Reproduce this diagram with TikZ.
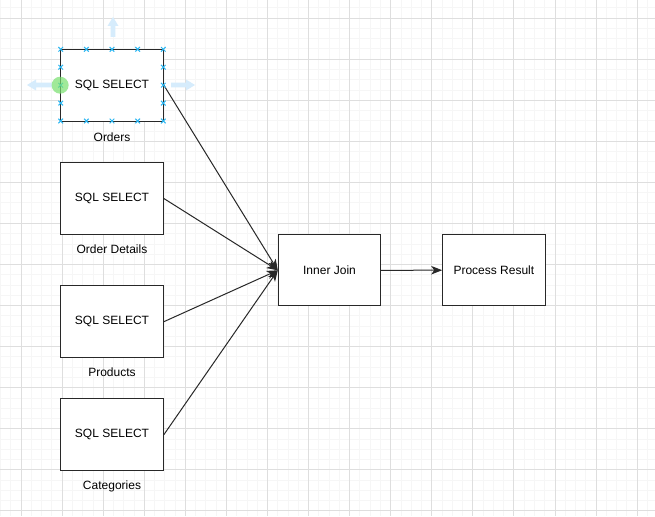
\documentclass[tikz,border=0pt]{standalone}
\usepackage{fontspec}
\setmainfont{Liberation Sans}
\usetikzlibrary{arrows.meta}

\definecolor{gridminor}{RGB}{246,246,246}
\definecolor{gridmajor}{RGB}{222,222,222}
\definecolor{edgegray}{RGB}{40,40,40}
\definecolor{handleblue}{RGB}{41,182,242}
\definecolor{hintblue}{RGB}{214,236,252}
\definecolor{pickgreen}{RGB}{120,225,110}

\begin{document}
\begin{tikzpicture}[x=1pt,y=1pt,yscale=-1,
  sqlbox/.style={draw=edgegray, line width=1pt, fill=white, minimum width=102.7pt,
    minimum height=71.8pt, inner sep=0pt, font=\fontsize{12}{14}\selectfont},
  caption/.style={inner sep=0pt, font=\fontsize{12}{14}\selectfont},
  flow/.style={draw=edgegray, line width=1pt, -{Stealth[length=11pt,width=8.5pt,inset=3pt]}},
  handle/.style={draw=handleblue, line width=1pt}]
\useasboundingbox (0,0) rectangle (655,516);
\fill[white] (0,0) rectangle (655,516);

% grid
\foreach \k in {-2,...,62} {
  \pgfmathsetmacro{\gx}{21+10.267*\k}
  \draw[gridminor, line width=0.7pt] (\gx,0) -- (\gx,516);
}
\foreach \k in {-1,...,49} {
  \pgfmathsetmacro{\gy}{18+10.267*\k}
  \draw[gridminor, line width=0.7pt] (0,\gy) -- (655,\gy);
}
\foreach \k in {0,...,15} {
  \pgfmathsetmacro{\gx}{21+41.07*\k}
  \draw[gridmajor, line width=0.8pt] (\gx,0) -- (\gx,516);
}
\foreach \k in {0,...,12} {
  \pgfmathsetmacro{\gy}{18+41.07*\k}
  \draw[gridmajor, line width=0.8pt] (0,\gy) -- (655,\gy);
}

% selection hints
\fill[hintblue] (113,17) -- (118.5,26) -- (115.3,26) -- (115.3,37) -- (110.7,37) -- (110.7,26) -- (107.5,26) -- cycle;
\fill[hintblue] (27,85) -- (36,79.5) -- (36,82.7) -- (52,82.7) -- (52,87.3) -- (36,87.3) -- (36,90.5) -- cycle;
\fill[hintblue] (195,85) -- (186,79.5) -- (186,82.7) -- (171,82.7) -- (171,87.3) -- (186,87.3) -- (186,90.5) -- cycle;

% SQL boxes
\node[sqlbox] (orders) at (112,85.2) {SQL SELECT};
\node[sqlbox] (details) at (112,198.5) {SQL SELECT};
\node[sqlbox] (products) at (112,321.7) {SQL SELECT};
\node[sqlbox] (categories) at (112,434.7) {SQL SELECT};

% Text Node
\node[caption] (ordersLbl) at (112,137) {Orders};
\node[caption] (detailsLbl) at (112,249.5) {Order Details};
\node[caption] (productsLbl) at (112,372.7) {Products};
\node[caption] (categoriesLbl) at (112,486) {Categories};

% join and result
\node[sqlbox, minimum width=102.4pt, minimum height=71.3pt] (join) at (329.5,270.3) {Inner Join};
\node[sqlbox, minimum width=102.4pt, minimum height=71.3pt] (result) at (493.9,270.2) {Process Result};

% connectors
\foreach \src in {orders,details,products,categories}
  \draw[flow] (\src.east) -- (join.west);
\draw[flow] (join.east) -- (result.west);

% handles of the selected box
\foreach \hx in {60.7,86.35,112,137.65,163.3}
  \foreach \hy in {49.3,121}
    \draw[handle] (\hx-2.3,\hy-2.3) -- (\hx+2.3,\hy+2.3) (\hx-2.3,\hy+2.3) -- (\hx+2.3,\hy-2.3);
\foreach \hy in {67.2,85.2,103.1}
  \foreach \hx in {60.7,163.3}
    \draw[handle] (\hx-2.3,\hy-2.3) -- (\hx+2.3,\hy+2.3) (\hx-2.3,\hy+2.3) -- (\hx+2.3,\hy-2.3);
\fill[pickgreen, opacity=0.7] (orders.west) circle (8.5);
\end{tikzpicture}
\end{document}
